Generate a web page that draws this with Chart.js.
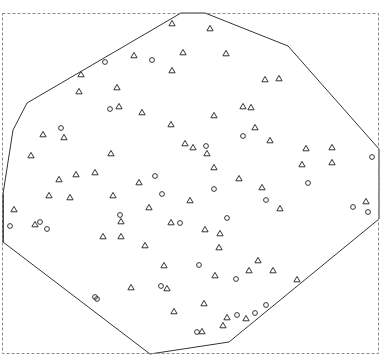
<!DOCTYPE html>
<html>
<head>
<meta charset="utf-8">
<script src="https://cdn.jsdelivr.net/npm/chart.js@4/dist/chart.umd.min.js"></script>
<style>
html,body{margin:0;padding:0;background:#fff;}
canvas{display:block;}
</style>
</head>
<body>
<canvas id="c" width="384" height="356"></canvas>
<script>
// Series A (triangles)
const triX = [170,208,181,132,224,170,79,263,277,115,77,117,241,249,140,212,169,253,41,62,268,183,191,304,330,29,109,205,300,330,212,57,74,93,137,237,260,47,68,111,188,364,12,147,278,119,33,169,203,101,119,218,143,217,162,256,247,271,213,295,129,165,202,172,225,244,221,200];
const triY = [330,325,301,298,300,283,279,274,275,266,262,247,247,246,241,238,229,226,219,216,213,210,206,205,206,198,200,200,189,191,186,174,179,181,171,175,166,158,156,158,153,152,144,146,145,132,129,131,124,117,117,120,108,106,88,93,83,83,78,74,66,65,50,42,36,35,28,22];
// Series B (circles)
const cirX = [103,150,108,59,241,204,370,153,306,212,160,264,351,366,118,225,8,38,45,178,197,234,159,93,95,264,253,235,195];
const cirY = [292,294,245,226,218,208,197,178,171,165,160,154,147,142,139,136,128,132,125,131,89,75,68,57,55,49,41,39,22];
// Enclosing polygon (hull)
const hullX = [179,25,11,1,1,148,227,377,377,286,203,179];
const hullY = [341,251,224,160,112,0,12,135,205,308,341,341];

const zip = (xs, ys) => xs.map((x, i) => ({x: x, y: ys[i]}));

const frame = {
  id: 'frame',
  afterDraw(chart) {
    const a = chart.chartArea, ctx = chart.ctx;
    ctx.save();
    ctx.strokeStyle = '#8a8a8a';
    ctx.lineWidth = 1;
    ctx.setLineDash([3, 2]);
    ctx.strokeRect(Math.round(a.left) + 0.5, Math.round(a.top) + 0.5,
                   Math.round(a.right - a.left) - 1, Math.round(a.bottom - a.top) - 1);
    ctx.restore();
  }
};

new Chart(document.getElementById('c'), {
  type: 'scatter',
  data: {
    datasets: [
      {
        label: 'A',
        data: zip(triX, triY),
        pointStyle: 'triangle',
        pointRadius: 3.6,
        borderColor: '#333',
        backgroundColor: 'rgba(0,0,0,0)',
        borderWidth: 1,
        clip: false
      },
      {
        label: 'B',
        data: zip(cirX, cirY),
        pointStyle: 'circle',
        pointRadius: 2.4,
        borderColor: '#333',
        backgroundColor: 'rgba(0,0,0,0)',
        borderWidth: 1,
        clip: false
      },
      {
        label: 'hull',
        data: zip(hullX, hullY),
        showLine: true,
        pointRadius: 0,
        borderColor: '#333',
        borderWidth: 1,
        fill: false,
        tension: 0,
        clip: false
      }
    ]
  },
  options: {
    responsive: false,
    animation: false,
    layout: { autoPadding: false, padding: { left: 2, right: 5, top: 13, bottom: 2 } },
    plugins: { legend: { display: false }, tooltip: { enabled: false } },
    scales: {
      x: { type: 'linear', display: false, min: 0, max: 377 },
      y: { type: 'linear', display: false, min: 0, max: 341 }
    }
  },
  plugins: [frame]
});
</script>
</body>
</html>
